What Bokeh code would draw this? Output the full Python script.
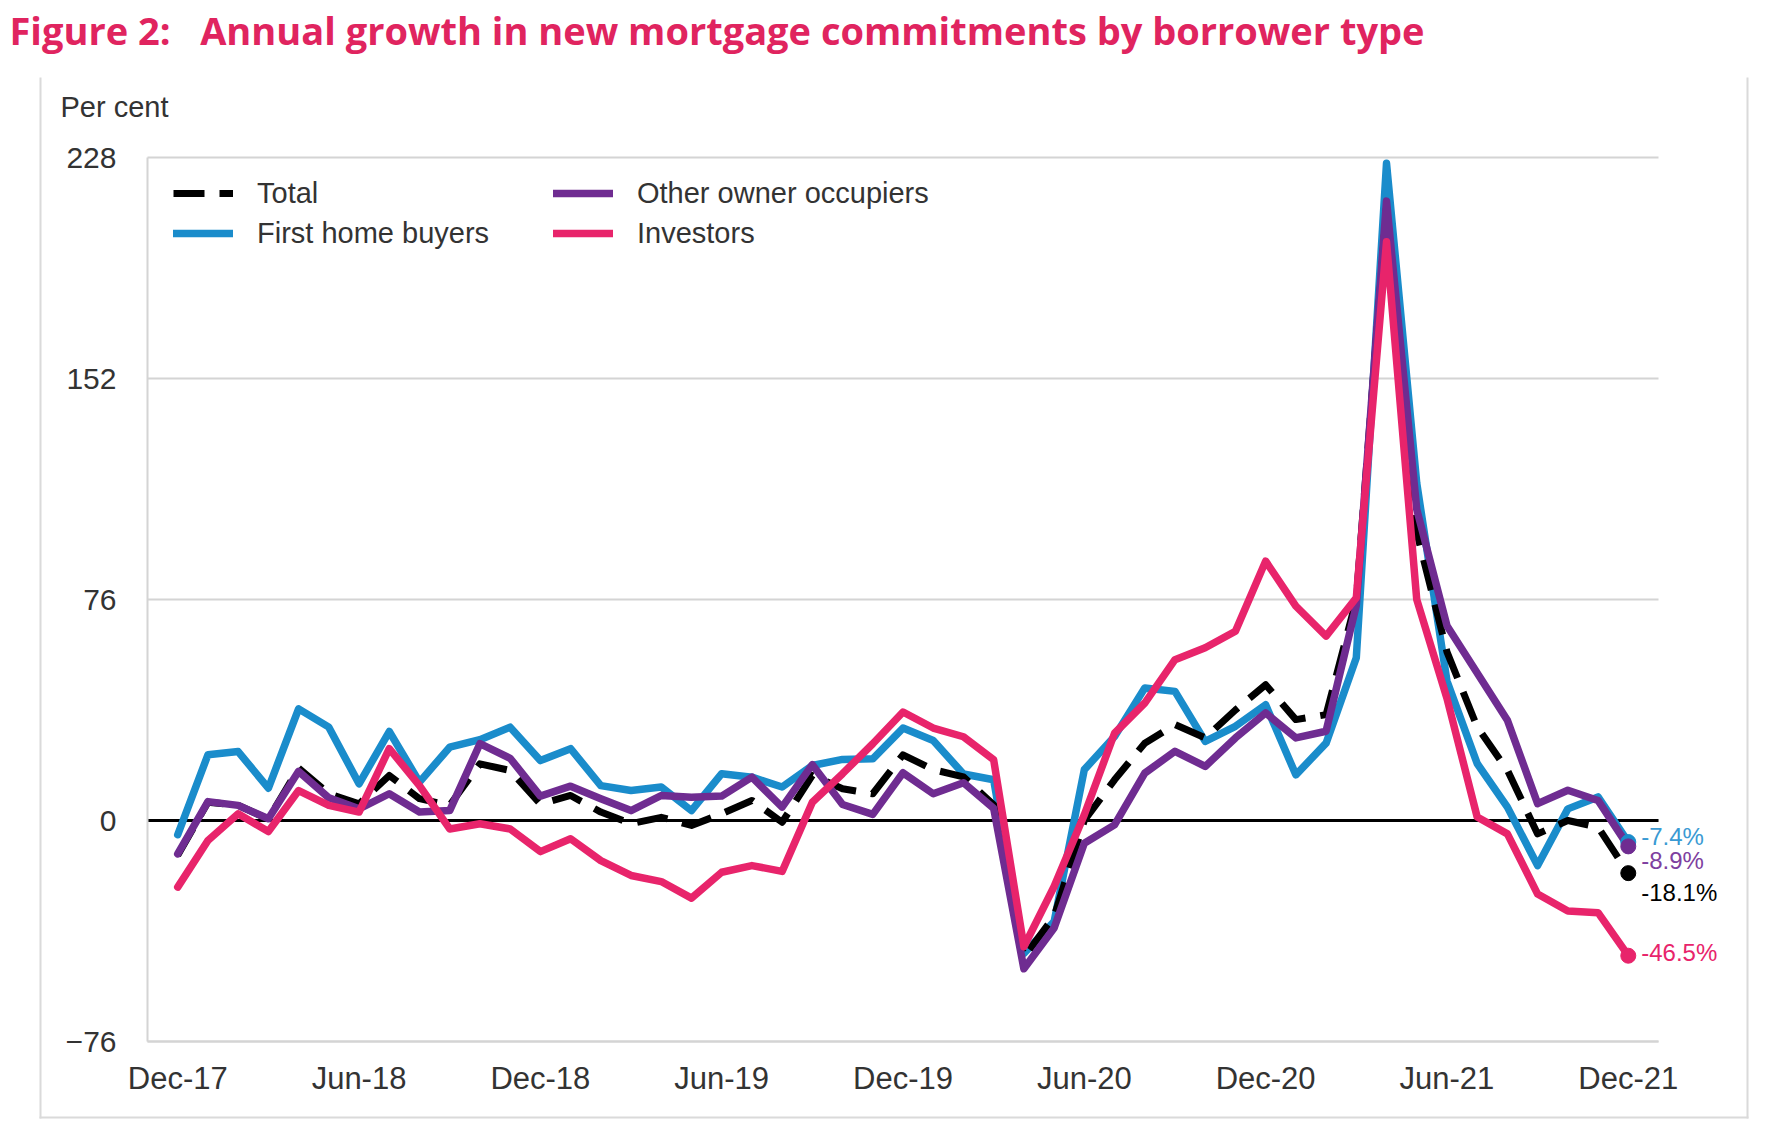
from bokeh.plotting import figure
from bokeh.models import (ColumnDataSource, Legend, LegendItem, Label, LabelSet,
                          FixedTicker, BoxAnnotation, Range1d, Grid)
from bokeh.core.properties import value
from bokeh.embed import file_html
from bokeh.resources import INLINE

# ---------------- data ----------------
# monthly index: 0 = Dec-17 ... 48 = Dec-21
months = list(range(49))
tick_positions = [0, 6, 12, 18, 24, 30, 36, 42, 48]
tick_labels = ["Dec-17", "Jun-18", "Dec-18", "Jun-19", "Dec-19",
               "Jun-20", "Dec-20", "Jun-21", "Dec-21"]
y_ticks = [-76, 0, 76, 152, 228]

total = [-12, 6.3, 5.2, 0.5, 18, 9.2, 5.7, 15.5, 7.5, 5.2, 19.5, 17.2, 5.7,
         8.6, 2.9, -1.1, 1.1, -1.7, 2.3, 6.9, -0.6, 15.5, 10.9, 9.2, 22.6,
         17.5, 15, 5.4, -47, -33, 0, 14, 26.6, 33, 28.4, 38, 46.7, 34.7,
         36.4, 76, 211, 99, 58, 32.2, 17.3, -4.6, 0, -2.3, -18.1]
first_home = [-4.9, 22.6, 23.7, 11.1, 38.4, 32.1, 12.6, 30.6, 13.2, 25.2, 27.8,
              32.1, 20.6, 24.7, 12.0, 10.3, 11.5, 3.4, 16.1, 14.9, 11.5, 18.9,
              21.0, 21.2, 31.8, 27.5, 16.0, 14.0, -45.7, -34.8, 17.5, 28.9, 45.6,
              44.4, 27.2, 32.4, 39.8, 15.7, 26.6, 56.0, 226.0, 116.0, 48.0, 19.6,
              4.6, -15.5, 4.0, 8.1, -7.4]
other_owner = [-11.5, 6.5, 5.2, 0.6, 16.9, 7.8, 4.0, 9.2, 2.9, 3.4, 26.4, 21.4,
               8.4, 11.8, 7.5, 3.4, 8.6, 8.0, 8.4, 14.9, 4.6, 19.2, 5.5, 2.1,
               16.4, 9.2, 13.0, 4.2, -51.0, -37.0, -7.8, -1.5, 16.3, 23.8, 18.6,
               28.4, 37.0, 28.4, 30.7, 74.0, 213.0, 107.0, 67.0, 50.7, 34.5, 5.8,
               10.4, 6.9, -8.9]
investors = [-22.9, -6.9, 2.3, -3.8, 10.3, 5.2, 2.9, 24.7, 12.0, -2.9, -1.1, -2.9,
             -10.7, -6.3, -13.8, -18.9, -21.0, -26.7, -17.8, -15.5, -17.5, 6.3,
             16.1, 26.4, 37.3, 31.8, 28.8, 20.9, -43.4, -22.7, 2.0, 30.0, 40.4,
             55.3, 59.4, 65.1, 89.2, 73.7, 63.4, 76.6, 199.0, 76.0, 42.0, 1.2,
             -4.6, -25.3, -31.1, -31.7, -46.5]

series_names = ["Total", "First home buyers", "Other owner occupiers", "Investors"]
title_text = "Figure 2:\u00a0\u00a0 Annual growth in new mortgage commitments by borrower type"
unit_text = "Per cent"

# ---------------- styles / layout ----------------
C_BLUE = "#1A8CCB"
C_PURPLE = "#6F2C91"
C_PINK = "#E8246B"
C_BLACK = "#000000"
C_TITLE = "#E0245F"
C_TEXT = "#333333"
C_GRID = "#D4D4D4"
FONT = "Liberation Sans"

W, H = 1764, 1122
# plotting area inside the canvas (pixels)
PL, PR, PT, PB = 147, 1658, 157, 1041
X0, X1 = -1, 49          # data extent of the plotting area
Y0, Y1 = -76, 228
sx = (PR - PL) / (X1 - X0)
sy = (PB - PT) / (Y1 - Y0)
x_range = Range1d(X0 - PL / sx, X1 + (W - PR) / sx)
y_range = Range1d(Y0 - (H - PB) / sy, Y1 + PT / sy)

p = figure(width=W, height=H, x_range=x_range, y_range=y_range,
           output_backend="svg", toolbar_location=None,
           min_border=0, background_fill_color="white",
           border_fill_color="white", outline_line_color=None)

# axes (kept at the edges of the plotting area)
p.xaxis.fixed_location = Y0
p.yaxis.fixed_location = X0
p.xaxis.bounds = (X0, X1)
p.yaxis.bounds = (Y0, Y1)
p.xaxis.ticker = FixedTicker(ticks=tick_positions)
p.xaxis.major_label_overrides = {t: l for t, l in zip(tick_positions, tick_labels)}
p.yaxis.ticker = FixedTicker(ticks=y_ticks)
for ax in (p.xaxis, p.yaxis):
    ax.major_tick_line_color = None
    ax.minor_tick_line_color = None
    ax.major_tick_out = 0
    ax.major_tick_in = 0
    ax.axis_line_color = C_GRID
    ax.axis_line_width = 2
    ax.major_label_text_font = FONT
    ax.major_label_text_font_size = "30px"
    ax.major_label_text_color = C_TEXT
p.xaxis.major_label_text_font_size = "31px"
p.xaxis.major_label_standoff = 19
p.yaxis.major_label_standoff = 31

p.xgrid.visible = False
p.ygrid.ticker = FixedTicker(ticks=y_ticks)
p.ygrid.grid_line_color = C_GRID
p.ygrid.grid_line_width = 2
p.ygrid.cross_bounds = (X0, X1)

zero_grid = Grid(dimension=1, ticker=FixedTicker(ticks=[0]),
                 grid_line_color="black", grid_line_width=3,
                 cross_bounds=(X0, X1))
p.add_layout(zero_grid)

src = ColumnDataSource(dict(x=months, total=total, fhb=first_home,
                            ooo=other_owner, inv=investors))

r_fhb = p.line("x", "fhb", source=src, line_color=C_BLUE, line_width=7.5,
               line_join="round", line_cap="round")
r_tot = p.line("x", "total", source=src, line_color=C_BLACK, line_width=7,
               line_dash="31 15", line_join="round")
r_ooo = p.line("x", "ooo", source=src, line_color=C_PURPLE, line_width=7.5,
               line_join="round", line_cap="round")
r_inv = p.line("x", "inv", source=src, line_color=C_PINK, line_width=7.5,
               line_join="round", line_cap="round")

# end-point markers & labels (from last data values)
last_vals = [first_home[-1], total[-1], other_owner[-1], investors[-1]]
end_colors = [C_BLUE, C_BLACK, C_PURPLE, C_PINK]
label_colors = ["#3A9AD3", C_BLACK, "#7E3FA0", C_PINK]
label_dy = [6, -19, -14, 3]
end_src = ColumnDataSource(dict(
    x=[months[-1]] * 4, y=last_vals, color=end_colors, lcolor=label_colors,
    text=["%.1f%%" % v for v in last_vals], dy=label_dy))
p.scatter("x", "y", source=end_src, size=15, color="color", marker="circle")
labels = LabelSet(x="x", y="y", text="text", source=end_src, x_offset=13,
                  y_offset="dy", text_color="lcolor", text_font=value(FONT),
                  text_font_size=value("24px"), text_baseline="middle")
p.add_layout(labels)

legend = Legend(items=[LegendItem(label=series_names[0], renderers=[r_tot]),
                       LegendItem(label=series_names[1], renderers=[r_fhb]),
                       LegendItem(label=series_names[2], renderers=[r_ooo]),
                       LegendItem(label=series_names[3], renderers=[r_inv])],
                location=(173, H - 250), orientation="vertical", nrows=2,
                glyph_width=60, glyph_height=34, label_height=34,
                label_width=290, label_standoff=24, spacing=6, padding=0,
                margin=0, border_line_color=None, background_fill_alpha=0,
                label_text_font=FONT, label_text_font_size="29px",
                label_text_color=C_TEXT)
p.add_layout(legend)

# title and unit label (screen units: from bottom-left of canvas)
p.add_layout(Label(x=9, y=H - 29, x_units="screen", y_units="screen",
                   text=title_text,
                   text_font="Open Sans", text_font_style="bold",
                   text_font_size="38px", text_color=C_TITLE,
                   text_baseline="middle"))
p.add_layout(Label(x=60, y=H - 106, x_units="screen", y_units="screen",
                   text=unit_text, text_font=FONT, text_font_size="29px",
                   text_color=C_TEXT, text_baseline="middle"))

# outer panel border (left, right, bottom)
for l, r, b, t in [(39, 41, H - 1118, H - 77), (1746, 1748, H - 1118, H - 77),
                   (39, 1748, H - 1118, H - 1116)]:
    p.add_layout(BoxAnnotation(left=l, right=r, top=t, bottom=b,
                               left_units="screen", right_units="screen",
                               top_units="screen", bottom_units="screen",
                               fill_color="#DADADA", fill_alpha=1,
                               line_color=None, level="underlay"))

open("out.html", "w").write(file_html(p, INLINE))
